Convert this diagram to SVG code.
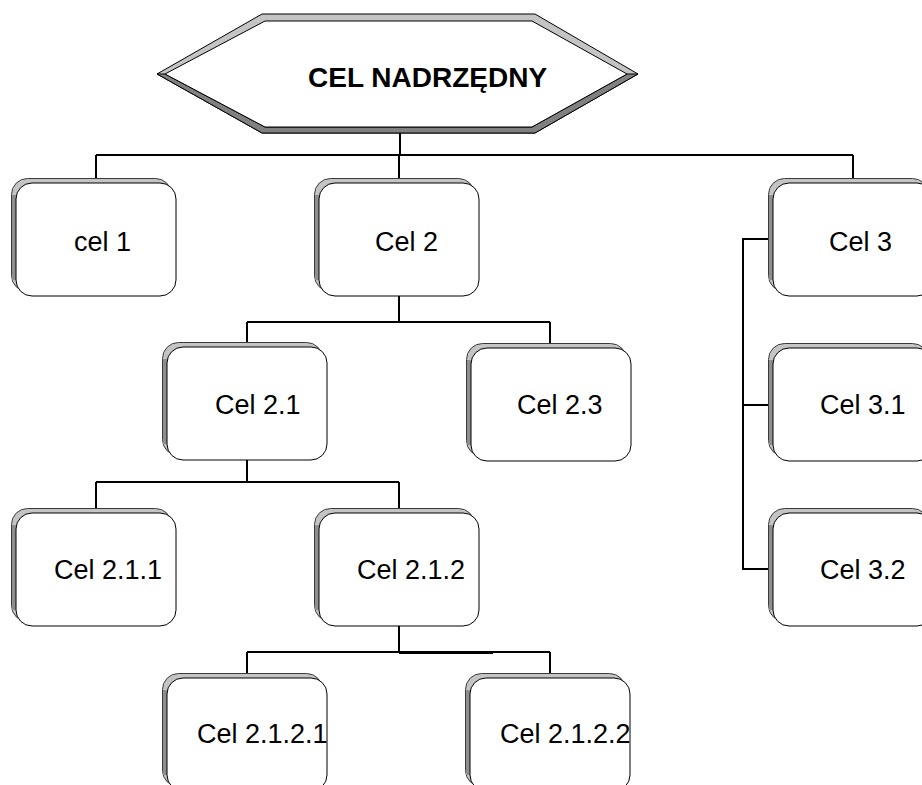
<svg xmlns="http://www.w3.org/2000/svg" xmlns:xlink="http://www.w3.org/1999/xlink" width="922" height="785" viewBox="0 0 922 785">
<style>
.back{fill:#c4c4c4;stroke:#3a3a3a;stroke-width:1}
.side{fill:#8e8e8e}
.front{fill:#fff;stroke:#000;stroke-width:1}
.lbl{font-family:"Liberation Sans",Arial,sans-serif;font-size:27px;fill:#000}
.title{font-family:"Liberation Sans",Arial,sans-serif;font-size:28px;font-weight:bold;fill:#000}
.conn{fill:none;stroke:#000;stroke-width:2}
</style>
<defs>
<g id="boxshape">
<rect x="-4.5" y="-4.5" width="160" height="113" rx="16" class="back"/>
<rect x="-4" y="12" width="4.5" height="85" class="side"/>
<rect x="0" y="0" width="160" height="113" rx="16" class="front"/>
</g>
</defs>
<rect width="922" height="785" fill="#fff"/>
<g id="connectors">
<path class="conn" d="M400,133 V155 M96,155 H853 M96,155 V179 M399,155 V179 M853,155 V179"/>
<path class="conn" d="M399,296 V322 M247,322 H550 M247,322 V343 M550,322 V344"/>
<path class="conn" d="M247,460 V482 M96,482 H399 M96,482 V509 M399,482 V509"/>
<path class="conn" d="M399,626 V652 M247,652 H550 M247,652 V674 M550,652 V674"/>
<path d="M399,652.5 H493" fill="none" stroke="#000" stroke-width="3"/>
<path class="conn" d="M769,239 H743 V569 H769 M743,405 H769"/>
</g>
<g id="root">
<polygon points="157,74 262,14 535,14 638,74 535,133 262,133" fill="#c4c4c4" stroke="#000" stroke-width="1"/>
<polygon points="157,74 262,133 535,133 638,74 627,74 532,127 265,127 165,74" fill="#808080" stroke="#000" stroke-width="1"/>
<polygon points="165,74 265,21 532,21 627,74 532,127 265,127" fill="#fff" stroke="#000" stroke-width="1"/>
<text class="title" x="308" y="87">CEL NADRZĘDNY</text>
</g>
<g id="cel1"><use xlink:href="#boxshape" x="16" y="183"/><text class="lbl" x="74" y="251">cel 1</text></g>
<g id="cel2"><use xlink:href="#boxshape" x="319" y="183"/><text class="lbl" x="375" y="251">Cel 2</text></g>
<g id="cel3"><use xlink:href="#boxshape" x="773" y="183"/><text class="lbl" x="829" y="251">Cel 3</text></g>
<g id="cel2_1"><use xlink:href="#boxshape" x="167" y="347"/><text class="lbl" x="215" y="414">Cel 2.1</text></g>
<g id="cel2_3"><use xlink:href="#boxshape" x="471" y="348"/><text class="lbl" x="517" y="414">Cel 2.3</text></g>
<g id="cel3_1"><use xlink:href="#boxshape" x="773" y="348"/><text class="lbl" x="820" y="414">Cel 3.1</text></g>
<g id="cel2_1_1"><use xlink:href="#boxshape" x="16" y="513"/><text class="lbl" x="54" y="579">Cel 2.1.1</text></g>
<g id="cel2_1_2"><use xlink:href="#boxshape" x="319" y="513"/><text class="lbl" x="357" y="579">Cel 2.1.2</text></g>
<g id="cel3_2"><use xlink:href="#boxshape" x="773" y="513"/><text class="lbl" x="820" y="579">Cel 3.2</text></g>
<g id="cel2_1_2_1"><use xlink:href="#boxshape" x="167" y="678"/><text class="lbl" x="197" y="743">Cel 2.1.2.1</text></g>
<g id="cel2_1_2_2"><use xlink:href="#boxshape" x="470" y="678"/><text class="lbl" x="500" y="743">Cel 2.1.2.2</text></g>
</svg>
